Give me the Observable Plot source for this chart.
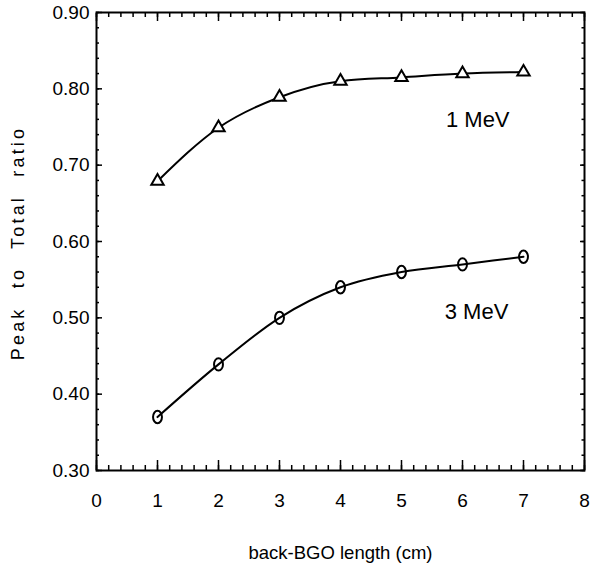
<!DOCTYPE html>
<html>
<head>
<meta charset="utf-8">
<script src="https://cdn.jsdelivr.net/npm/d3@7"></script>
<script src="https://cdn.jsdelivr.net/npm/@observablehq/plot@0.6"></script>
<style>
  html, body { margin: 0; padding: 0; background: #fff; }
  svg { display: block; font-family: "Liberation Sans", Arial, sans-serif; }
</style>
</head>
<body>
<div id="chart"></div>
<script>
// Data
const lengthCm = [1, 2, 3, 4, 5, 6, 7];
const ratio1MeV = [0.679, 0.749, 0.789, 0.810, 0.815, 0.820, 0.822];
const ratio3MeV = [0.370, 0.439, 0.500, 0.540, 0.560, 0.570, 0.580];

const seriesLabels = ["1 MeV", "3 MeV"];
const labelX = [6.25, 6.23];
const labelY = [0.759, 0.508];

const xTickLabels = [0, 1, 2, 3, 4, 5, 6, 7, 8];
const yTickLabels = [0.30, 0.40, 0.50, 0.60, 0.70, 0.80, 0.90];
const xMinor = d3.range(0, 41).map(i => i / 5);
const yMinor = d3.range(15, 46).map(i => i / 50);

const s1 = lengthCm.map((x, i) => ({x, y: ratio1MeV[i]}));
const s3 = lengthCm.map((x, i) => ({x, y: ratio3MeV[i]}));
const labels = seriesLabels.map((t, i) => ({t, x: labelX[i], y: labelY[i]}));

// tall ellipse symbol (the reference's circles are slightly elongated)
const ellipseSymbol = {
  draw(context, size) {
    const r = Math.sqrt(size / Math.PI);
    const rx = r * 0.72, ry = r;
    const k = 0.5523;
    context.moveTo(0, -ry);
    context.bezierCurveTo(k * rx, -ry, rx, -k * ry, rx, 0);
    context.bezierCurveTo(rx, k * ry, k * rx, ry, 0, ry);
    context.bezierCurveTo(-k * rx, ry, -rx, k * ry, -rx, 0);
    context.bezierCurveTo(-rx, -k * ry, -k * rx, -ry, 0, -ry);
    context.closePath();
  }
};

const blank = () => "";
const font = "Liberation Sans, Arial, sans-serif";

const chart = Plot.plot({
  width: 591,
  height: 570,
  marginLeft: 96,
  marginRight: 7,
  marginTop: 12,
  marginBottom: 100,
  style: {fontFamily: font, color: "#000", background: "#fff"},
  x: {domain: [0, 8]},
  y: {domain: [0.30, 0.90]},
  marks: [
    // minor ticks (inward)
    Plot.axisX({anchor: "bottom", ticks: xMinor, tickSize: -5, tickFormat: blank, label: null, strokeWidth: 1.5}),
    Plot.axisX({anchor: "top", ticks: xMinor, tickSize: -4, tickFormat: blank, label: null, strokeWidth: 1.5}),
    Plot.axisY({anchor: "left", ticks: yMinor, tickSize: -3, tickFormat: blank, label: null, strokeWidth: 1.5}),
    Plot.axisY({anchor: "right", ticks: yMinor, tickSize: -3.5, tickFormat: blank, label: null, strokeWidth: 1.5}),
    // major ticks (inward)
    Plot.axisX({anchor: "bottom", ticks: xTickLabels, tickSize: -10, tickFormat: blank, label: null, strokeWidth: 1.5}),
    Plot.axisX({anchor: "top", ticks: xTickLabels, tickSize: -8, tickFormat: blank, label: null, strokeWidth: 1.5}),
    Plot.axisY({anchor: "left", ticks: yTickLabels, tickSize: -6, tickFormat: blank, label: null, strokeWidth: 1.5}),
    Plot.axisY({anchor: "right", ticks: yTickLabels, tickSize: -5, tickFormat: blank, label: null, strokeWidth: 1.5}),
    // tick labels
    Plot.axisX({anchor: "bottom", ticks: xTickLabels, tickSize: 0, tickPadding: 23, tickFormat: d3.format("d"),
      fontSize: 19, label: "back-BGO length (cm)", labelAnchor: "center", labelOffset: 88, labelArrow: "none"}),
    Plot.axisY({anchor: "left", ticks: yTickLabels, tickSize: 0, tickPadding: 7, tickFormat: d3.format(".2f"),
      fontSize: 19, label: null}),
    Plot.frame({stroke: "#000", strokeWidth: 2}),
    // curves
    Plot.line(s1, {x: "x", y: "y", curve: "monotone-x", stroke: "#000", strokeWidth: 2}),
    Plot.line(s3, {x: "x", y: "y", curve: "monotone-x", stroke: "#000", strokeWidth: 2}),
    Plot.dot(s1, {x: "x", y: "y", symbol: "triangle", r: 4.6, fill: "#fff", stroke: "#000", strokeWidth: 2}),
    Plot.dot(s3, {x: "x", y: "y", symbol: ellipseSymbol, r: 6.2, fill: "none", stroke: "#000", strokeWidth: 2}),
    Plot.text(labels, {x: "x", y: "y", text: "t", fontSize: 22, fill: "#000"})
  ]
});

const container = document.getElementById("chart");
container.appendChild(chart);

// Y-axis title as real text in the SVG
const svgNS = "http://www.w3.org/2000/svg";
const yTitle = document.createElementNS(svgNS, "text");
yTitle.setAttribute("transform", "translate(18,243) rotate(-90)");
yTitle.setAttribute("text-anchor", "middle");
yTitle.setAttribute("dominant-baseline", "central");
yTitle.setAttribute("font-size", "18");
yTitle.setAttribute("font-family", font);
yTitle.setAttribute("letter-spacing", "3.2");
yTitle.setAttribute("word-spacing", "10");
yTitle.setAttribute("fill", "#000");
yTitle.textContent = "Peak to Total ratio";
chart.appendChild(yTitle);

// X title font size
chart.querySelectorAll("g[aria-label='x-axis label'] text").forEach(t => {
  t.setAttribute("font-size", "18.5");
});
</script>
</body>
</html>
